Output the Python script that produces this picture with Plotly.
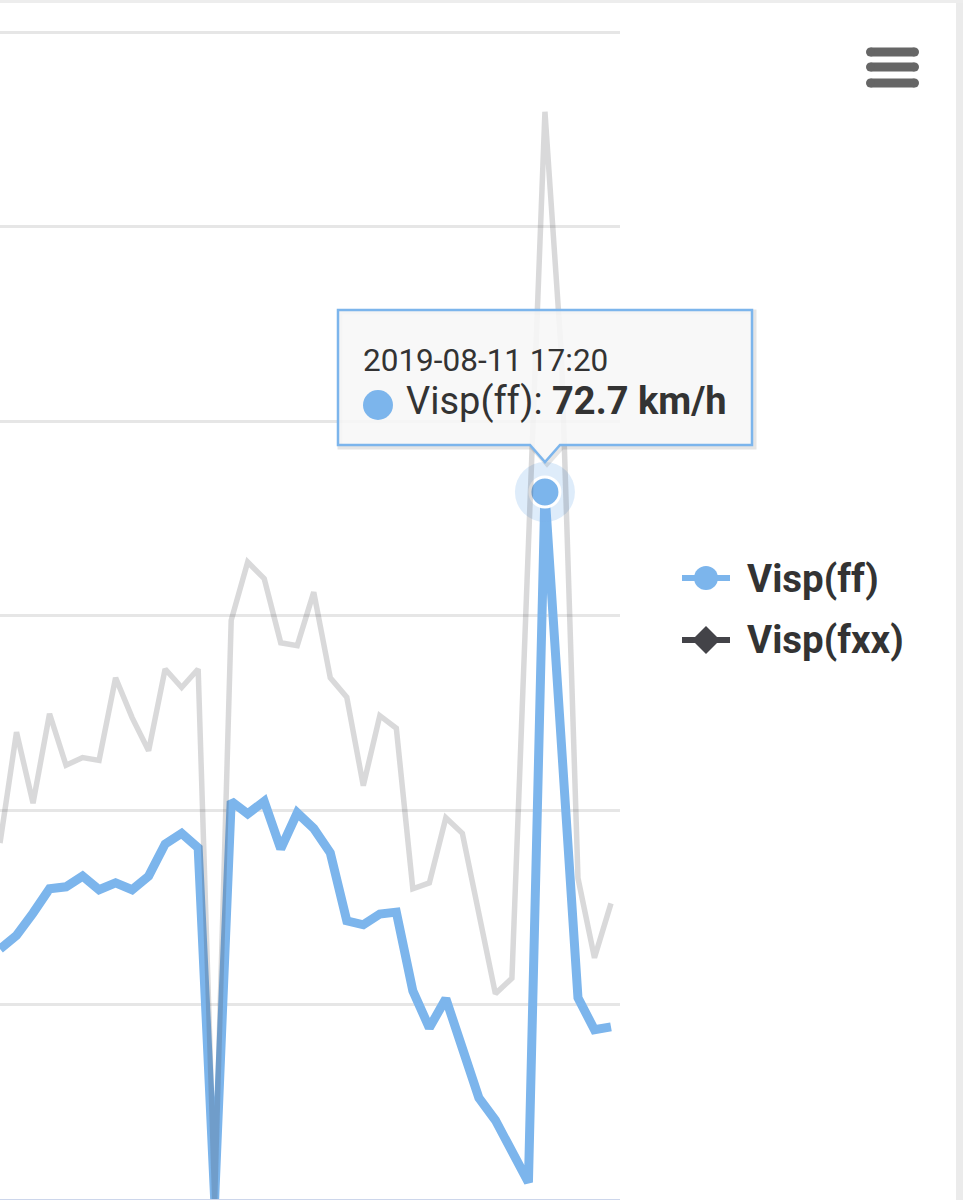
import plotly.graph_objects as go
import pandas as pd

# ---- data (10-minute wind speeds, km/h) ----
start_time = "2019-08-11 11:50"
n_points = 38
ff_values = [25.7, 27.1, 29.4, 31.9, 32.1, 33.2, 31.8, 32.5, 31.8, 33.2,
             36.5, 37.6, 36.1, 0.0, 40.9, 39.6, 40.9, 36.0, 39.7, 38.1,
             35.6, 28.6, 28.2, 29.3, 29.5, 21.4, 17.6, 20.6, 15.5, 10.4,
             8.1, 5.0, 1.7, 72.7, 46.7, 20.7, 17.4, 17.7]
fxx_values = [36.6, 48.0, 40.7, 49.9, 44.6, 45.4, 45.1, 53.6, 49.5, 46.1,
              54.5, 52.6, 54.5, 0.0, 59.5, 65.5, 63.8, 57.2, 56.9, 62.4,
              53.6, 51.6, 42.5, 49.7, 48.4, 31.9, 32.5, 39.2, 37.6, 29.3,
              21.1, 22.7, 67.3, 111.8, 86.8, 33.0, 24.8, 30.4]
series_names = ["Visp(ff)", "Visp(fxx)"]
hover_index = 33
tooltip_header = "2019-08-11 17:20"
unit = "km/h"
y_ticks = [0, 20, 40, 60, 80, 100, 120]

times = pd.date_range(start_time, periods=n_points, freq="10min")

C_FF = "#7cb5ec"
C_FXX = "#434348"
TXT = "#333333"
FONT = "Roboto"

# plot area in page pixels (value 0 at y=1199, value 120 at y=32)
PX_L, PX_R, PY_T, PY_B = 0, 620, 28, 1199
Y_PER_UNIT = (1199 - 32) / 120.0
Y_MAX = 120 + (32 - PY_T) / Y_PER_UNIT

def px(x):
    return (x - PX_L) / (PX_R - PX_L)
def py(y):
    return (PY_B - y) / (PY_B - PY_T)

fig = go.Figure()
fig.add_trace(go.Scatter(x=times, y=ff_values, mode="lines", name=series_names[0],
                         line=dict(color=C_FF, width=9), showlegend=False,
                         hoverinfo="skip"))
# hover halo + marker on hovered point
fig.add_trace(go.Scatter(x=[times[hover_index]], y=[ff_values[hover_index]], mode="markers",
                         marker=dict(size=60, color="rgba(124,181,236,0.25)"),
                         showlegend=False, hoverinfo="skip", cliponaxis=False))
fig.add_trace(go.Scatter(x=[times[hover_index]], y=[ff_values[hover_index]], mode="markers",
                         marker=dict(size=30, color=C_FF, line=dict(color="white", width=3)),
                         showlegend=False, hoverinfo="skip", cliponaxis=False))
fig.add_trace(go.Scatter(x=times, y=fxx_values, mode="lines", name=series_names[1],
                         line=dict(color="rgba(67,67,72,0.2)", width=5.5), showlegend=False,
                         hoverinfo="skip"))

shapes = []
# frame bands
shapes.append(dict(type="rect", xref="paper", yref="paper", x0=px(956), x1=px(963),
                   y0=py(1200), y1=py(0), fillcolor="#ebebeb", line=dict(width=0), layer="above"))
shapes.append(dict(type="rect", xref="paper", yref="paper", x0=px(0), x1=px(963),
                   y0=py(3), y1=py(0), fillcolor="#ededed", line=dict(width=0), layer="above"))

# tooltip callout
def callout(dx=0, dy=0):
    pts = [(338, 310), (752, 310), (752, 445), (560, 445), (545, 462), (530, 445), (338, 445)]
    s = ""
    for i, (a, b) in enumerate(pts):
        s += ("M" if i == 0 else "L") + f"{px(a + dx):.5f},{py(b + dy):.5f} "
    return s + "Z"

shapes.append(dict(type="path", xref="paper", yref="paper", path=callout(2, 2),
                   line=dict(color="rgba(0,0,0,0.10)", width=5), fillcolor="rgba(0,0,0,0)",
                   layer="above"))
shapes.append(dict(type="path", xref="paper", yref="paper", path=callout(),
                   line=dict(color=C_FF, width=2.5), fillcolor="rgba(247,247,247,0.88)",
                   layer="above"))
# tooltip bullet
shapes.append(dict(type="circle", xref="paper", yref="paper", x0=px(363), x1=px(393),
                   y0=py(420), y1=py(390), fillcolor=C_FF, line=dict(width=0), layer="above"))

# legend symbols
shapes.append(dict(type="line", xref="paper", yref="paper", x0=px(682), x1=px(730),
                   y0=py(578), y1=py(578), line=dict(color=C_FF, width=6), layer="above"))
shapes.append(dict(type="circle", xref="paper", yref="paper", x0=px(694), x1=px(718),
                   y0=py(590), y1=py(566), fillcolor=C_FF, line=dict(width=0), layer="above"))
shapes.append(dict(type="line", xref="paper", yref="paper", x0=px(682), x1=px(730),
                   y0=py(640), y1=py(640), line=dict(color=C_FXX, width=6), layer="above"))
dpath = (f"M{px(692):.5f},{py(640):.5f} L{px(706):.5f},{py(626):.5f} "
         f"L{px(720):.5f},{py(640):.5f} L{px(706):.5f},{py(654):.5f} Z")
shapes.append(dict(type="path", xref="paper", yref="paper", path=dpath,
                   fillcolor=C_FXX, line=dict(width=0), layer="above"))

# hamburger menu icon
for yy in (52, 67, 83):
    shapes.append(dict(type="line", xref="paper", yref="paper", x0=px(870.5), x1=px(914.5),
                       y0=py(yy), y1=py(yy), line=dict(color="#666666", width=9), layer="above"))
    for cx in (870.5, 914.5):
        shapes.append(dict(type="circle", xref="paper", yref="paper", x0=px(cx - 4.5),
                           x1=px(cx + 4.5), y0=py(yy + 4.5), y1=py(yy - 4.5),
                           fillcolor="#666666", line=dict(width=0), layer="above"))

annotations = [
    dict(xref="paper", yref="paper", x=px(361), y=py(361), xanchor="left", yanchor="middle",
         text=tooltip_header, showarrow=False, font=dict(family=FONT, size=31.5, color=TXT)),
    dict(xref="paper", yref="paper", x=px(404), y=py(401), xanchor="left", yanchor="middle",
         text=f"{series_names[0]}: <b>{ff_values[hover_index]} {unit}</b>", showarrow=False,
         font=dict(family=FONT, size=38, color=TXT)),
    dict(xref="paper", yref="paper", x=px(745), y=py(578), xanchor="left", yanchor="middle",
         text=f"<b>{series_names[0]}</b>", showarrow=False,
         font=dict(family=FONT, size=38.5, color=TXT)),
    dict(xref="paper", yref="paper", x=px(745), y=py(639), xanchor="left", yanchor="middle",
         text=f"<b>{series_names[1]}</b>", showarrow=False,
         font=dict(family=FONT, size=38.5, color=TXT)),
]

x_end = times[-1] + pd.Timedelta(minutes=10) * (PX_R - 611) / 16.5
fig.update_layout(
    width=963, height=1200,
    margin=dict(l=PX_L, r=963 - PX_R, t=PY_T, b=1200 - PY_B, pad=0),
    paper_bgcolor="white", plot_bgcolor="white",
    font=dict(family=FONT, color=TXT),
    showlegend=False,
    xaxis=dict(type="date", range=[times[0], x_end], showgrid=False, zeroline=False,
               showline=True, linecolor="#ccd6eb", linewidth=2, showticklabels=False,
               ticks=""),
    yaxis=dict(range=[0, Y_MAX], tickvals=y_ticks, showgrid=True, gridcolor="#e6e6e6",
               gridwidth=2.5, zeroline=False, showticklabels=False, ticks=""),
    shapes=shapes,
    annotations=annotations,
)

fig.write_html("out.html", config={"displayModeBar": False},
               post_script="document.body.style.margin='0';document.body.style.overflow='hidden';")
